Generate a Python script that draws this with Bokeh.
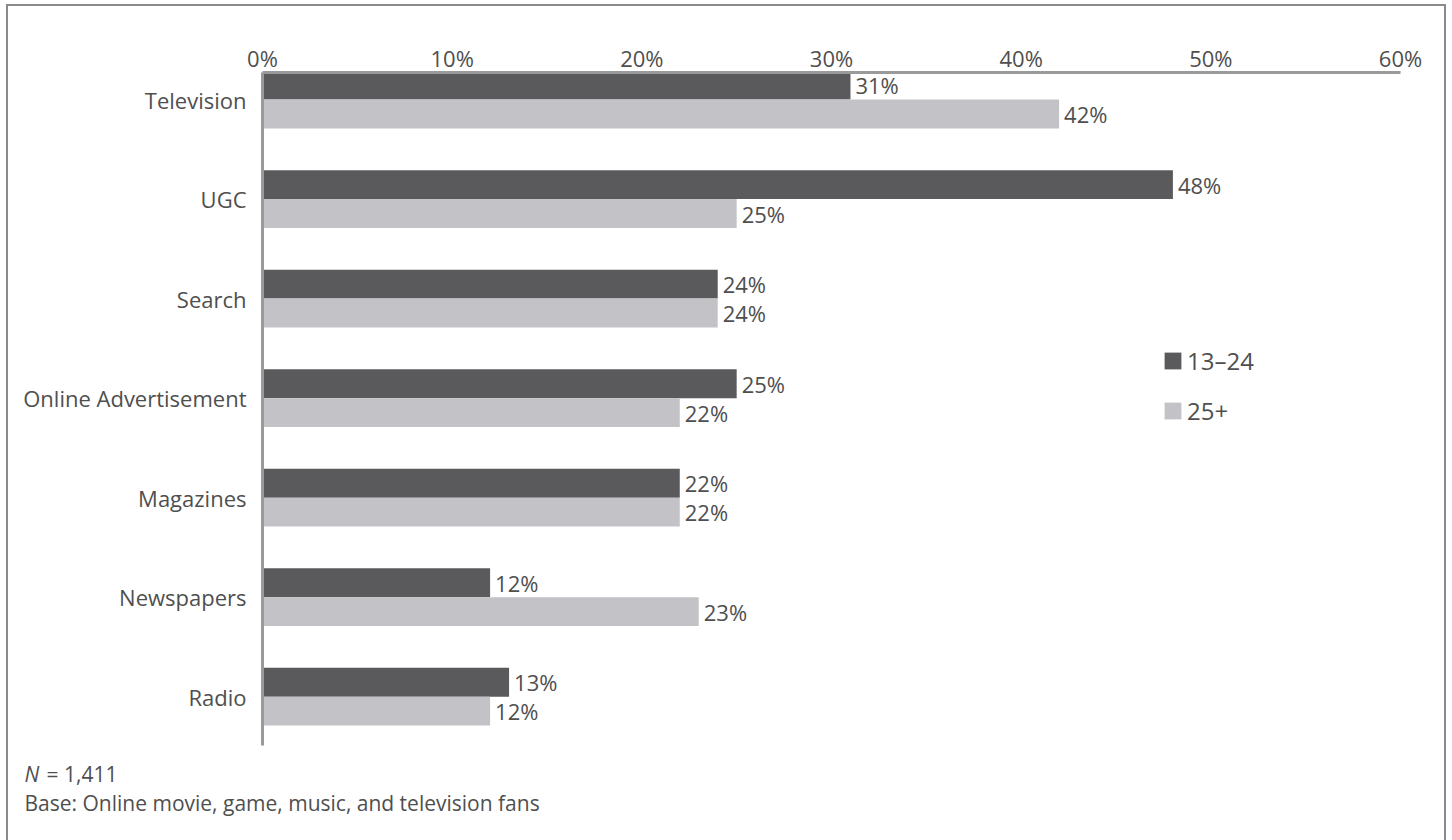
import numpy as np
from bokeh.plotting import figure
from bokeh.models import (Range1d, FixedTicker, ColumnDataSource, Legend, LegendItem, Label)
from bokeh.core.properties import value
from bokeh.embed import file_html
from bokeh.resources import INLINE

categories = ["Television", "UGC", "Search", "Online Advertisement", "Magazines", "Newspapers", "Radio"]
series_names = ["13\u201324", "25+"]
young = [31, 48, 24, 25, 22, 12, 13]
older = [42, 25, 24, 22, 22, 23, 12]
x_ticks = [0, 10, 20, 30, 40, 50, 60]
note_n = "N"
note_n_rest = "= 1,411"
note_base = "Base: Online movie, game, music, and television fans"

FONT = "Open Sans"
TXT = "#4f4f4f"
DARK = "#5a5a5c"
LIGHT = "#c3c3c7"
AXIS = "#9a9a9a"
FRAME = "#8a8a8a"

idx = np.arange(len(categories))
bar_h = 0.29

src_y = ColumnDataSource(dict(y=idx - bar_h / 2, v=young, t=[f"{v}%" for v in young]))
src_o = ColumnDataSource(dict(y=idx + bar_h / 2, v=older, t=[f"{v}%" for v in older]))

g = f"linear-gradient({FRAME}, {FRAME})"
p = figure(width=1452, height=840, output_backend="svg", toolbar_location=None,
           x_range=Range1d(0, 60), y_range=Range1d(6.49, -0.272),
           x_axis_location="above", min_border_left=262, min_border_right=52,
           min_border_top=72, min_border_bottom=95,
           styles={
               "background-color": "white",
               "background-image": f"{g}, {g}, {g}",
               "background-size": "2px 840px, 1440px 2px, 2px 840px",
               "background-position": "6px 4px, 6px 4px, 1444px 4px",
               "background-repeat": "no-repeat",
           })
p.border_fill_alpha = 0
p.outline_line_color = None
p.xgrid.visible = False
p.ygrid.visible = False

r1 = p.hbar(y="y", right="v", left=0, height=bar_h, source=src_y, fill_color=DARK, line_color=None)
r2 = p.hbar(y="y", right="v", left=0, height=bar_h, source=src_o, fill_color=LIGHT, line_color=None)

for s in (src_y, src_o):
    p.text(x="v", y="y", text="t", source=s, x_offset=5, text_baseline="middle",
           text_align="left", text_font=value(FONT), text_font_size="22px", text_color=TXT)

xa = p.xaxis[0]
xa.ticker = FixedTicker(ticks=x_ticks)
xa.major_label_overrides = {t: f"{t}%" for t in x_ticks}
xa.major_tick_out = 0
xa.major_tick_in = 0
xa.axis_line_color = AXIS
xa.axis_line_width = 3
xa.major_label_standoff = 0
xa.major_label_text_font = FONT
xa.major_label_text_font_size = "22px"
xa.major_label_text_color = TXT

ya = p.yaxis[0]
ya.ticker = FixedTicker(ticks=list(idx))
ya.major_label_overrides = {int(i): c for i, c in zip(idx, categories)}
ya.major_tick_out = 0
ya.major_tick_in = 0
ya.axis_line_color = AXIS
ya.axis_line_width = 3
ya.major_label_standoff = 16
ya.major_label_text_font = FONT
ya.major_label_text_font_size = "22px"
ya.major_label_text_color = TXT

legend = Legend(items=[LegendItem(label=series_names[0], renderers=[r1]),
                       LegendItem(label=series_names[1], renderers=[r2])],
                location=(900, 318), orientation="vertical",
                glyph_width=21, glyph_height=21, label_height=20, spacing=17,
                padding=0, margin=0, border_line_color=None, background_fill_alpha=0,
                label_text_font=FONT, label_text_font_size="24px", label_text_color=TXT,
                label_standoff=4)
p.add_layout(legend, "center")

common = dict(x_units="canvas", y_units="canvas", text_font=FONT, text_font_size="21px",
              text_color=TXT, text_baseline="middle")
p.add_layout(Label(x=24, y=773, text=note_n, text_font_style="italic", **common), "below")
p.add_layout(Label(x=46, y=773, text=note_n_rest, **common), "below")
p.add_layout(Label(x=24, y=802, text=note_base, **common), "below")

open("out.html", "w").write(file_html(p, INLINE))
